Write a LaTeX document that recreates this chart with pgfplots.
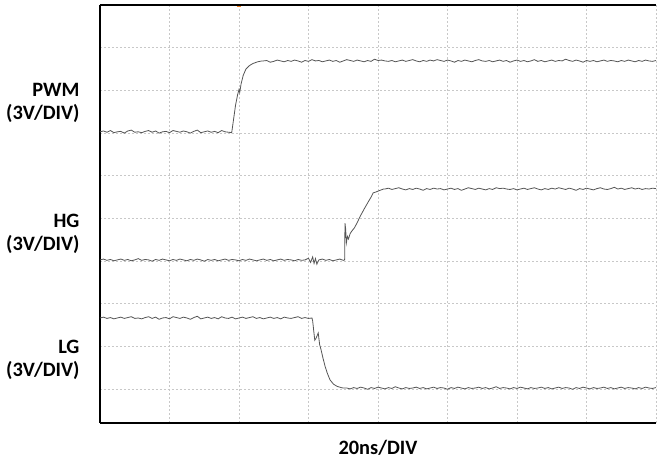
\documentclass[border=0pt]{standalone}
\usepackage{pgfplots}
\pgfplotsset{compat=1.18}
\usepackage{fontspec}
\setmainfont{Carlito}
\definecolor{trace}{HTML}{555555}
\definecolor{gridc}{HTML}{C8C8C8}
\definecolor{trig}{HTML}{F08020}
\begin{document}
\begin{tikzpicture}
\begin{axis}[
  scale only axis, width=556bp, height=418bp,
  xmin=0, xmax=8, ymin=0.211, ymax=10,
  xtick={0,1,...,8}, ytick={1,2,...,10},
  xticklabels={}, yticklabels={},
  major tick length=0pt,
  grid=major,
  major grid style={gridc, line width=0.8bp, dash pattern=on 2bp off 2bp},
  axis x line=box, axis y line=left,
  axis line style={-, black, line width=1.5bp},
  clip=false,
]
\coordinate (ll) at (rel axis cs:0,0);
\coordinate (ur) at (rel axis cs:1,1);
% PWM
\addplot[trace, line width=0.8bp] coordinates {
(0.00,7.03)(0.05,7.05)(0.10,7.02)(0.15,7.06)(0.20,7.01)(0.25,7.03)(0.30,7.04)(0.35,7.00)(0.40,7.05)(0.45,7.07)
(0.50,7.02)(0.55,7.03)(0.60,7.01)(0.65,7.04)(0.70,7.06)(0.75,7.02)(0.80,7.05)(0.85,7.00)(0.90,7.03)(0.95,7.04)
(1.00,7.01)(1.05,7.06)(1.10,7.04)(1.15,7.02)(1.20,7.05)(1.25,7.03)(1.30,7.00)(1.35,7.04)(1.40,7.07)(1.45,7.01)
(1.50,7.03)(1.55,7.05)(1.60,7.02)(1.65,7.04)(1.70,7.01)(1.75,7.06)(1.80,7.03)(1.85,7.02)(1.895,7.01)
(1.92,7.30)(1.95,7.65)(1.98,7.90)(2.00,8.02)(2.01,7.95)(2.03,8.15)(2.06,8.35)(2.10,8.50)(2.15,8.58)(2.20,8.63)(2.27,8.67)(2.33,8.69)
(2.35,8.69)(2.40,8.70)(2.45,8.66)(2.50,8.68)(2.55,8.71)(2.60,8.69)(2.65,8.67)(2.70,8.70)(2.75,8.68)(2.80,8.71)
(2.85,8.69)(2.90,8.66)(2.95,8.70)(3.00,8.68)(3.05,8.72)(3.10,8.69)(3.15,8.70)(3.20,8.67)(3.25,8.69)(3.30,8.71)
(3.35,8.68)(3.40,8.70)(3.45,8.66)(3.50,8.69)(3.55,8.72)(3.60,8.70)(3.65,8.68)(3.70,8.71)(3.75,8.69)(3.80,8.67)
(3.85,8.70)(3.90,8.68)(3.95,8.73)(4.00,8.70)(4.05,8.71)(4.10,8.69)(4.15,8.68)(4.20,8.70)(4.25,8.67)(4.30,8.69)
(4.35,8.71)(4.40,8.68)(4.45,8.70)(4.50,8.72)(4.55,8.69)(4.60,8.67)(4.65,8.70)(4.70,8.68)(4.75,8.71)(4.80,8.69)
(4.85,8.72)(4.90,8.70)(4.95,8.68)(5.00,8.71)(5.05,8.69)(5.10,8.66)(5.15,8.70)(5.20,8.68)(5.25,8.71)(5.30,8.69)
(5.35,8.67)(5.40,8.70)(5.45,8.72)(5.50,8.69)(5.55,8.68)(5.60,8.70)(5.65,8.67)(5.70,8.69)(5.75,8.71)(5.80,8.68)
(5.85,8.70)(5.90,8.66)(5.95,8.69)(6.00,8.71)(6.05,8.68)(6.10,8.70)(6.15,8.67)(6.20,8.69)(6.25,8.72)(6.30,8.68)
(6.35,8.70)(6.40,8.67)(6.45,8.69)(6.50,8.71)(6.55,8.68)(6.60,8.70)(6.65,8.69)(6.70,8.73)(6.75,8.70)(6.80,8.68)
(6.85,8.71)(6.90,8.69)(6.95,8.66)(7.00,8.70)(7.05,8.68)(7.10,8.70)(7.15,8.67)(7.20,8.69)(7.25,8.71)(7.30,8.68)
(7.35,8.70)(7.40,8.69)(7.45,8.67)(7.50,8.70)(7.55,8.68)(7.60,8.71)(7.65,8.69)(7.70,8.67)(7.75,8.70)(7.80,8.68)
(7.85,8.71)(7.90,8.69)(7.95,8.68)(8.00,8.70)
};
% HG
\addplot[trace, line width=0.8bp] coordinates {
(0.00,4.03)(0.05,4.05)(0.10,4.02)(0.15,4.04)(0.20,4.01)(0.25,4.03)(0.30,4.05)(0.35,4.02)(0.40,4.04)(0.45,4.01)
(0.50,4.03)(0.55,4.06)(0.60,4.02)(0.65,4.04)(0.70,4.03)(0.75,4.00)(0.80,4.04)(0.85,4.02)(0.90,4.05)(0.95,4.03)
(1.00,4.01)(1.05,4.04)(1.10,4.02)(1.15,4.05)(1.20,4.03)(1.25,4.01)(1.30,4.04)(1.35,4.02)(1.40,4.05)(1.45,4.03)
(1.50,4.00)(1.55,4.04)(1.60,4.02)(1.65,4.04)(1.70,4.01)(1.75,4.03)(1.80,4.05)(1.85,4.02)(1.90,4.04)(1.95,4.03)
(2.00,4.01)(2.05,4.04)(2.10,4.02)(2.15,4.05)(2.20,4.03)(2.25,4.01)(2.30,4.03)(2.35,4.05)(2.40,4.02)(2.45,4.04)
(2.50,4.01)(2.55,4.03)(2.60,4.05)(2.65,4.02)(2.70,4.04)(2.75,4.03)(2.80,4.01)(2.85,4.04)(2.90,4.02)(2.95,4.03)
(3.00,4.07)(3.03,3.97)(3.06,4.10)(3.08,3.95)(3.10,4.06)(3.12,3.93)(3.15,4.03)(3.20,4.05)(3.25,4.02)(3.30,4.04)
(3.35,4.01)(3.40,4.03)(3.45,4.05)(3.50,4.02)(3.52,4.03)
(3.525,4.89)(3.535,4.75)(3.545,4.43)(3.56,4.58)(3.575,4.52)(3.60,4.65)(3.63,4.72)(3.66,4.78)(3.70,4.90)(3.74,5.04)
(3.80,5.22)(3.86,5.39)(3.90,5.50)(3.93,5.60)(3.97,5.62)(4.03,5.66)(4.08,5.69)
(4.10,5.69)(4.15,5.71)(4.20,5.68)(4.25,5.70)(4.30,5.72)(4.35,5.69)(4.40,5.67)(4.45,5.70)(4.50,5.68)(4.55,5.71)
(4.60,5.69)(4.65,5.66)(4.70,5.70)(4.75,5.68)(4.80,5.71)(4.85,5.69)(4.90,5.70)(4.95,5.67)(5.00,5.69)(5.05,5.71)
(5.10,5.68)(5.15,5.70)(5.20,5.66)(5.25,5.69)(5.30,5.72)(5.35,5.70)(5.40,5.68)(5.45,5.71)(5.50,5.69)(5.55,5.67)
(5.60,5.70)(5.65,5.68)(5.70,5.72)(5.75,5.70)(5.80,5.71)(5.85,5.69)(5.90,5.68)(5.95,5.70)(6.00,5.67)(6.05,5.69)
(6.10,5.71)(6.15,5.68)(6.20,5.70)(6.25,5.72)(6.30,5.69)(6.35,5.67)(6.40,5.70)(6.45,5.68)(6.50,5.71)(6.55,5.69)
(6.60,5.72)(6.65,5.70)(6.70,5.68)(6.75,5.71)(6.80,5.69)(6.85,5.66)(6.90,5.70)(6.95,5.68)(7.00,5.71)(7.05,5.69)
(7.10,5.67)(7.15,5.70)(7.20,5.72)(7.25,5.69)(7.30,5.68)(7.35,5.70)(7.40,5.73)(7.45,5.69)(7.50,5.71)(7.55,5.68)
(7.60,5.70)(7.65,5.72)(7.70,5.69)(7.75,5.71)(7.80,5.68)(7.85,5.70)(7.90,5.69)(7.95,5.71)(8.00,5.70)
};
% LG
\addplot[trace, line width=0.8bp] coordinates {
(0.00,2.67)(0.05,2.69)(0.10,2.66)(0.15,2.68)(0.20,2.65)(0.25,2.67)(0.30,2.69)(0.35,2.66)(0.40,2.68)(0.45,2.70)
(0.50,2.66)(0.55,2.67)(0.60,2.65)(0.65,2.68)(0.70,2.70)(0.75,2.66)(0.80,2.69)(0.85,2.64)(0.90,2.67)(0.95,2.68)
(1.00,2.65)(1.05,2.70)(1.10,2.68)(1.15,2.66)(1.20,2.69)(1.25,2.67)(1.30,2.64)(1.35,2.68)(1.40,2.71)(1.45,2.65)
(1.50,2.67)(1.55,2.69)(1.60,2.66)(1.65,2.68)(1.70,2.65)(1.75,2.70)(1.80,2.67)(1.85,2.66)(1.90,2.69)(1.95,2.65)
(2.00,2.67)(2.05,2.69)(2.10,2.66)(2.15,2.68)(2.20,2.70)(2.25,2.66)(2.30,2.68)(2.35,2.65)(2.40,2.67)(2.45,2.69)
(2.50,2.66)(2.55,2.68)(2.60,2.65)(2.65,2.69)(2.70,2.67)(2.75,2.66)(2.80,2.68)(2.85,2.70)(2.90,2.66)(2.95,2.68)
(3.00,2.66)(3.05,2.67)
(3.06,2.60)(3.08,2.30)(3.09,2.15)(3.11,2.20)(3.14,2.32)(3.16,2.05)(3.18,1.93)(3.21,1.72)(3.24,1.53)(3.27,1.38)
(3.31,1.22)(3.36,1.12)(3.41,1.07)(3.47,1.04)(3.50,1.03)
(3.55,1.03)(3.60,1.01)(3.65,1.04)(3.70,1.02)(3.75,1.05)(3.80,1.03)(3.85,1.00)(3.90,1.04)(3.95,1.02)(4.00,1.05)
(4.05,1.03)(4.10,1.01)(4.15,1.04)(4.20,1.02)(4.25,1.06)(4.30,1.03)(4.35,1.01)(4.40,1.04)(4.45,1.02)(4.50,1.03)
(4.55,1.05)(4.60,1.02)(4.65,1.04)(4.70,1.01)(4.75,1.03)(4.80,1.05)(4.85,1.02)(4.90,1.04)(4.95,1.03)(5.00,1.00)
(5.05,1.04)(5.10,1.02)(5.15,1.05)(5.20,1.03)(5.25,1.01)(5.30,1.04)(5.35,1.02)(5.40,1.03)(5.45,1.05)(5.50,1.02)
(5.55,1.04)(5.60,1.01)(5.65,1.03)(5.70,1.06)(5.75,1.02)(5.80,1.04)(5.85,1.03)(5.90,1.01)(5.95,1.04)(6.00,1.02)
(6.05,1.05)(6.10,1.03)(6.15,1.01)(6.20,1.04)(6.25,1.02)(6.30,1.03)(6.35,1.05)(6.40,1.02)(6.45,1.04)(6.50,1.01)
(6.55,1.03)(6.60,1.05)(6.65,1.02)(6.70,1.04)(6.75,1.03)(6.80,1.00)(6.85,1.04)(6.90,1.02)(6.95,1.05)(7.00,1.03)
(7.05,1.01)(7.10,1.04)(7.15,1.02)(7.20,1.03)(7.25,1.05)(7.30,1.02)(7.35,1.04)(7.40,1.01)(7.45,1.03)(7.50,1.05)
(7.55,1.02)(7.60,1.04)(7.65,1.03)(7.70,1.01)(7.75,1.04)(7.80,1.02)(7.85,1.05)(7.90,1.03)(7.95,1.02)(8.00,1.04)
};
% trigger marker
\addplot[trig, line width=1.2bp] coordinates {(1.97,9.96)(2.03,9.96)};
% labels
\node[anchor=base east, font=\fontsize{20.4bp}{24bp}\selectfont\bfseries, xshift=-17bp] at (axis cs:0,7.85) {PWM};
\node[anchor=base east, font=\fontsize{20.4bp}{24bp}\selectfont\bfseries, xshift=-17bp] at (axis cs:0,7.31) {(3V/DIV)};
\node[anchor=base east, font=\fontsize{20.4bp}{24bp}\selectfont\bfseries, xshift=-17bp] at (axis cs:0,4.80) {HG};
\node[anchor=base east, font=\fontsize{20.4bp}{24bp}\selectfont\bfseries, xshift=-17bp] at (axis cs:0,4.24) {(3V/DIV)};
\node[anchor=base east, font=\fontsize{20.4bp}{24bp}\selectfont\bfseries, xshift=-17bp] at (axis cs:0,1.85) {LG};
\node[anchor=base east, font=\fontsize{20.4bp}{24bp}\selectfont\bfseries, xshift=-17bp] at (axis cs:0,1.29) {(3V/DIV)};
\node[anchor=base, font=\fontsize{20.4bp}{24bp}\selectfont\bfseries, yshift=-32bp] at (rel axis cs:0.5,0) {20ns/DIV};
\end{axis}
\pgfresetboundingbox
\path ([xshift=-100bp,yshift=-40bp]ll) rectangle ([xshift=2bp,yshift=5bp]ur);
\end{tikzpicture}
\end{document}
